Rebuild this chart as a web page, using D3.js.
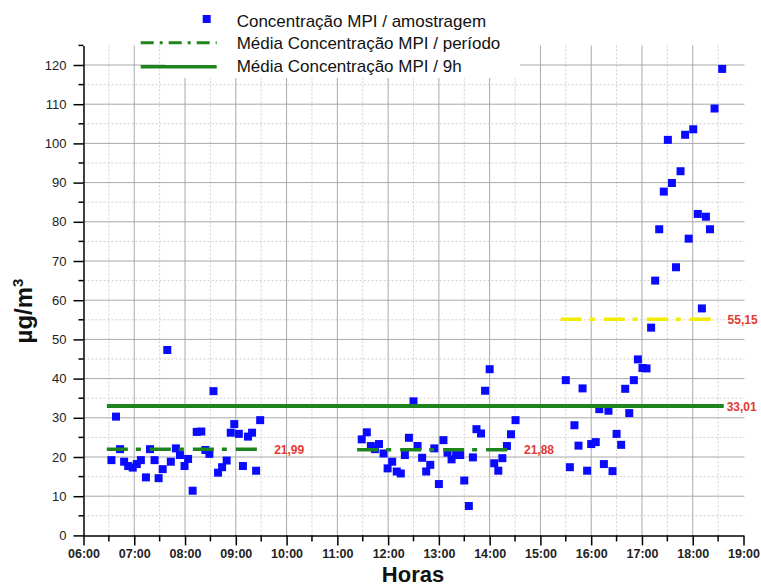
<!DOCTYPE html>
<html><head><meta charset="utf-8">
<script src="https://cdn.jsdelivr.net/npm/d3@7"></script>
<style>
body{margin:0;background:#fff}
svg{display:block;font-family:Arial,"Liberation Sans",sans-serif}
</style>
</head><body>
<svg id="chart" width="761" height="588"></svg>
<script>
// ---- data (hours as decimal, values in µg/m³) ----
const timesMorning = [6.55,6.64,6.72,6.80,6.88,6.97,7.05,7.13,7.23,7.31,7.40,7.48,7.56,7.65,7.72,7.82,7.90,7.99,8.06,8.15,8.23,8.32,8.40,8.48,8.56,8.65,8.73,8.82,8.90,8.97,9.06,9.14,9.24,9.32,9.40,9.48];
const valuesMorning = [19.2,30.3,22.0,18.8,17.7,17.3,18.2,19.2,14.8,22.0,19.2,14.6,16.9,47.3,18.8,22.2,20.5,17.7,19.5,11.4,26.4,26.5,21.8,20.8,36.8,16.0,17.4,19.1,26.2,28.4,25.9,17.7,25.2,26.2,16.5,29.4];
const timesMidday = [11.48,11.58,11.66,11.74,11.82,11.91,11.99,12.08,12.17,12.25,12.33,12.41,12.50,12.58,12.67,12.75,12.83,12.91,13.00,13.09,13.17,13.25,13.34,13.42,13.50,13.59,13.67,13.74,13.83,13.91,14.00,14.09,14.17,14.25,14.34,14.42,14.51];
const valuesMidday = [24.5,26.3,22.8,22.0,23.3,20.9,17.1,18.8,16.3,15.8,20.5,24.9,34.2,22.8,19.8,16.3,18.0,22.2,13.1,24.3,21.1,19.4,20.5,20.5,14.0,7.5,19.9,27.1,26.0,36.9,42.4,18.4,16.5,19.7,22.8,25.8,29.4];
const timesAfternoon = [15.50,15.58,15.67,15.75,15.83,15.92,16.00,16.09,16.16,16.25,16.34,16.42,16.50,16.59,16.67,16.75,16.84,16.92,17.01,17.09,17.18,17.26,17.34,17.43,17.51,17.59,17.67,17.76,17.85,17.92,18.01,18.10,18.18,18.26,18.34,18.43,18.58];
const valuesAfternoon = [39.6,17.4,28.1,22.9,37.5,16.5,23.3,23.8,32.2,18.2,31.8,16.4,25.9,23.1,37.4,31.2,39.6,44.9,42.7,42.6,53.0,65.0,78.1,87.7,100.9,89.9,68.4,92.9,102.2,75.7,103.6,82.0,57.9,81.3,78.1,108.9,119.0];

const periodMeans  = [21.99, 21.88, 55.15];
const periodLabels = ["21,99", "21,88", "55,15"];
const periodStart  = [6.46, 11.39, 15.40];
const periodEnd    = [9.48, 14.40, 18.41];
const overallMean  = 33.01;
const overallLabel = "33,01";
const overallSpan  = [6.46, 18.61];

const hourTicks  = d3.range(6, 20);
const halfTicks  = d3.range(6.5, 19, 1);
const valueTicks = d3.range(0, 121, 10);
const minorValueTicks = d3.range(5, 126, 10);
const legendLabels = ["Concentração MPI / amostragem", "Média Concentração MPI / período", "Média Concentração MPI / 9h"];
const xTitle = "Horas";

// ---- drawing ----
const svg = d3.select("#chart");
const x = d3.scaleLinear().domain([6, 19]).range([83.5, 743.5]);
const y = d3.scaleLinear().domain([0, 125]).range([535.4, 45.4]);
const GREEN = "#1e841e", YELLOW = "#f2ec00", BLUE = "#0a0aff", RED = "#e33a32";

// grid
const grid = svg.append("g");
grid.selectAll(".vmin").data(halfTicks).join("line")
  .attr("x1", d => x(d)).attr("x2", d => x(d)).attr("y1", y(0)).attr("y2", y(125))
  .attr("stroke", "#cfcfcf").attr("stroke-dasharray", "2,2");
grid.selectAll(".hmin").data(d3.range(5, 120, 10)).join("line")
  .attr("x1", x(6)).attr("x2", x(19) + 1).attr("y1", d => y(d)).attr("y2", d => y(d))
  .attr("stroke", "#cfcfcf").attr("stroke-dasharray", "2,2");
grid.selectAll(".vmaj").data(hourTicks.filter(h => h > 6 && h < 19)).join("line")
  .attr("x1", d => x(d)).attr("x2", d => x(d)).attr("y1", y(0)).attr("y2", y(125))
  .attr("stroke", "#a9a9a9");
grid.selectAll(".hmaj").data(valueTicks.filter(v => v > 0)).join("line")
  .attr("x1", x(6)).attr("x2", x(19) + 1).attr("y1", d => y(d)).attr("y2", d => y(d))
  .attr("stroke", "#a9a9a9");

// legend background
svg.append("rect").attr("x", 165).attr("y", 0).attr("width", 355).attr("height", 78).attr("fill", "#fff");

// points
svg.append("g").selectAll("rect")
  .data([].concat(
    timesMorning.map((t, i) => [t, valuesMorning[i]]),
    timesMidday.map((t, i) => [t, valuesMidday[i]]),
    timesAfternoon.map((t, i) => [t, valuesAfternoon[i]])))
  .join("rect")
  .attr("x", d => x(d[0]) - 4).attr("y", d => y(d[1]) - 4)
  .attr("width", 8).attr("height", 8).attr("fill", BLUE);

// overall mean
svg.append("line")
  .attr("x1", x(overallSpan[0])).attr("x2", x(overallSpan[1]))
  .attr("y1", y(overallMean)).attr("y2", y(overallMean))
  .attr("stroke", GREEN).attr("stroke-width", 4);
svg.append("text").attr("x", x(overallSpan[1]) + 3).attr("y", y(overallMean) + 4.5)
  .attr("fill", RED).attr("font-size", 12).attr("font-weight", "bold").text(overallLabel);

// period means
periodMeans.forEach((m, i) => {
  svg.append("line")
    .attr("x1", x(periodStart[i])).attr("x2", x(periodEnd[i]))
    .attr("y1", y(m)).attr("y2", y(m))
    .attr("stroke", i === 2 ? YELLOW : GREEN).attr("stroke-width", 3.5)
    .attr("stroke-dasharray", "21,8,5,9");
  svg.append("text").attr("x", x(periodEnd[i]) + 14).attr("y", y(m) + 4.5)
    .attr("fill", RED).attr("font-size", 12).attr("font-weight", "bold").text(periodLabels[i]);
});

// axes
const yAxis = d3.axisLeft(y).tickValues(valueTicks).tickSize(10).tickPadding(7).tickSizeOuter(0);
const gy = svg.append("g").attr("transform", `translate(${x(6)},0)`).call(yAxis);
gy.selectAll("text").attr("font-size", 13).attr("font-family", "Arial,'Liberation Sans',sans-serif").attr("fill", "#222");
gy.selectAll("line").attr("stroke", "#000").attr("stroke-width", 1.5);
gy.select(".domain").attr("stroke", "#000").attr("stroke-width", 1.5);
gy.append("g").selectAll("line").data(minorValueTicks).join("line")
  .attr("x1", -5).attr("x2", 0).attr("y1", d => y(d)).attr("y2", d => y(d))
  .attr("stroke", "#000").attr("stroke-width", 1.5);

const xAxis = d3.axisBottom(x).tickValues(hourTicks).tickSize(10).tickPadding(4).tickSizeOuter(0)
  .tickFormat(d => String(d).padStart(2, "0") + ":00");
const gx = svg.append("g").attr("transform", `translate(0,${y(0)})`).call(xAxis);
gx.selectAll("text").attr("font-size", 12.5).attr("font-weight", "bold").attr("font-family", "Arial,'Liberation Sans',sans-serif").attr("fill", "#222");
gx.selectAll("line").attr("stroke", "#000").attr("stroke-width", 1.5);
gx.select(".domain").attr("stroke", "#000").attr("stroke-width", 1.5);
gx.append("g").selectAll("line").data(halfTicks).join("line")
  .attr("x1", d => x(d)).attr("x2", d => x(d)).attr("y1", 0).attr("y2", 6)
  .attr("stroke", "#000").attr("stroke-width", 1.5);

// titles
svg.append("text").attr("x", 413).attr("y", 582).attr("text-anchor", "middle")
  .attr("font-size", 22).attr("font-weight", "bold").attr("fill", "#111").text(xTitle);
const yt = svg.append("text").attr("transform", "translate(32,311) rotate(-90)").attr("text-anchor", "middle")
  .attr("font-size", 24).attr("font-weight", "bold").attr("fill", "#111");
yt.append("tspan").text("µg/m");
yt.append("tspan").attr("font-size", 15).attr("dy", -9).text("3");

// legend
const lg = svg.append("g");
lg.append("rect").attr("x", 202.7).attr("y", 15).attr("width", 8).attr("height", 8).attr("fill", BLUE);
lg.append("line").attr("x1", 140.7).attr("x2", 216.7).attr("y1", 42.7).attr("y2", 42.7)
  .attr("stroke", GREEN).attr("stroke-width", 3).attr("stroke-dasharray", "13,6,3,6");
lg.append("line").attr("x1", 140.7).attr("x2", 216.7).attr("y1", 66.7).attr("y2", 66.7)
  .attr("stroke", GREEN).attr("stroke-width", 3.5);
legendLabels.forEach((s, i) => {
  lg.append("text").attr("x", 236.7).attr("y", 26.5 + i * 22.7)
    .attr("font-size", 17).attr("fill", "#111").text(s);
});
</script>
</body></html>
